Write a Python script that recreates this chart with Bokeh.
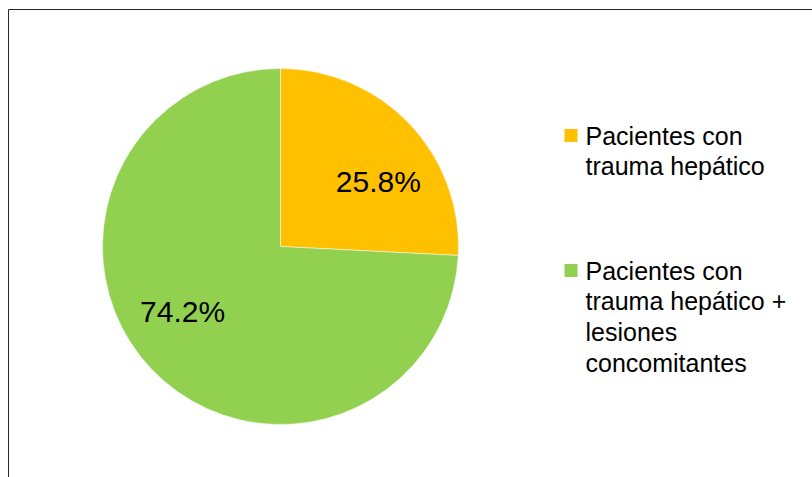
import math
from bokeh.plotting import figure
from bokeh.models import Range1d, ColumnDataSource
from bokeh.core.properties import value
from bokeh.embed import file_html
from bokeh.resources import INLINE

# ---- data ----
categories = ["Pacientes con trauma hepático",
              "Pacientes con trauma hepático + lesiones concomitantes"]
percents = [25.8, 74.2]
colors = ["#FFC000", "#92D050"]
legend_lines = [["Pacientes con", "trauma hepático"],
                ["Pacientes con", "trauma hepático +", "lesiones", "concomitantes"]]

W, H = 812, 477
FONT = "Liberation Sans"

p = figure(width=W, height=H, x_range=Range1d(0, W), y_range=Range1d(0, H),
           output_backend="svg", toolbar_location=None, min_border=0,
           outline_line_color=None, background_fill_color="white")
p.axis.visible = False
p.grid.visible = False

# frame (top and left edges visible)
p.segment(x0=[8, 8], y0=[H - 9, H - 9], x1=[W, 8], y1=[H - 9, 0],
          line_color="#262626", line_width=1)

# pie
cx, cy, R = 280, H - 246, 178
total = sum(percents)
starts, ends, lx, ly, labels = [], [], [], [], []
cum = 0.0
for v in percents:
    a0 = 90 - 360 * cum / total
    cum += v
    a1 = 90 - 360 * cum / total
    starts.append(math.radians(a0))
    ends.append(math.radians(a1))
    mid = math.radians((a0 + a1) / 2 - 10)
    lx.append(cx + 0.66 * R * math.cos(mid))
    ly.append(cy + 0.66 * R * math.sin(mid))
    labels.append(f"{v:.1f}%")

src = ColumnDataSource(dict(start=starts, end=ends, color=colors))
p.wedge(x=cx, y=cy, radius=R, start_angle="start", end_angle="end",
        direction="clock", fill_color="color", line_color="white",
        line_width=0.5, source=src)

p.text(x=lx, y=ly, text=labels, text_font=value(FONT), text_font_size="30px",
       text_align="center", text_baseline="middle", text_color="black")

# legend
entry_tops = [H - 135, H - 270]
line_gap = 30.7
for i, lines in enumerate(legend_lines):
    y0 = entry_tops[i]
    p.rect(x=[570.5], y=[y0], width=13, height=13, fill_color=colors[i],
           line_color=None)
    ys = [y0 - k * line_gap for k in range(len(lines))]
    p.text(x=[585] * len(lines), y=ys, text=lines, text_font=value(FONT),
           text_font_size="25px", text_align="left", text_baseline="middle",
           text_color="black")

open("out.html", "w").write(file_html(p, INLINE))
